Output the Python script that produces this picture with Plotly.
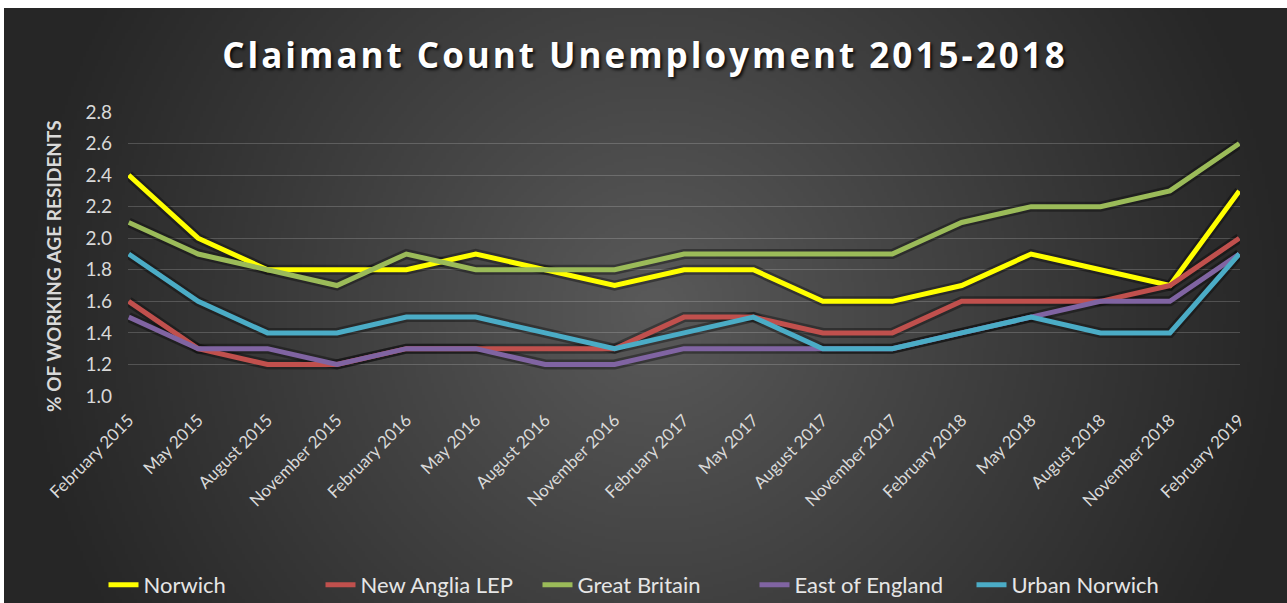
import base64
import struct
import zlib

import numpy as np
import plotly.graph_objects as go

# ---------------- data ----------------
months = [
    "February 2015", "May 2015", "August 2015", "November 2015",
    "February 2016", "May 2016", "August 2016", "November 2016",
    "February 2017", "May 2017", "August 2017", "November 2017",
    "February 2018", "May 2018", "August 2018", "November 2018",
    "February 2019",
]
norwich = [2.4, 2.0, 1.8, 1.8, 1.8, 1.9, 1.8, 1.7, 1.8, 1.8, 1.6, 1.6, 1.7, 1.9, 1.8, 1.7, 2.3]
new_anglia = [1.6, 1.3, 1.2, 1.2, 1.3, 1.3, 1.3, 1.3, 1.5, 1.5, 1.4, 1.4, 1.6, 1.6, 1.6, 1.7, 2.0]
great_britain = [2.1, 1.9, 1.8, 1.7, 1.9, 1.8, 1.8, 1.8, 1.9, 1.9, 1.9, 1.9, 2.1, 2.2, 2.2, 2.3, 2.6]
east_england = [1.5, 1.3, 1.3, 1.2, 1.3, 1.3, 1.2, 1.2, 1.3, 1.3, 1.3, 1.3, 1.4, 1.5, 1.6, 1.6, 1.9]
urban_norwich = [1.9, 1.6, 1.4, 1.4, 1.5, 1.5, 1.4, 1.3, 1.4, 1.5, 1.3, 1.3, 1.4, 1.5, 1.4, 1.4, 1.9]
y_ticks = [1.0, 1.2, 1.4, 1.6, 1.8, 2.0, 2.2, 2.4, 2.6, 2.8]

series = [
    ("Norwich", norwich, "#FFFF00"),
    ("New Anglia LEP", new_anglia, "#C0504D"),
    ("Great Britain", great_britain, "#9BBB59"),
    ("East of England", east_england, "#8064A2"),
    ("Urban Norwich", urban_norwich, "#4BACC6"),
]

# ---------------- layout geometry ----------------
W, H = 1287, 603
ML, MR, MT, MB = 128, 47, 112, 207
PW, PH = W - ML - MR, H - MT - MB


def px_x(X):
    return (X - ML) / PW


def px_y(Y):
    return (H - MB - Y) / PH


# ---------------- radial gradient background (PNG data URI) ----------------
def gradient_uri(w, h, scale):
    ys, xs = np.mgrid[0:h, 0:w].astype(float)
    xs = xs * scale
    ys = ys * scale
    cx, cy = 650.0, 300.0
    r = np.sqrt((xs - cx) ** 2 + (ys - cy) ** 2) / 640.0
    r = np.clip(r, 0, 1)
    v = 38 + (90 - 38) * (1 - r) ** 1.05
    arr = np.clip(v, 0, 255).astype(np.uint8)
    rgb = np.stack([arr, arr, arr], axis=2)
    raw = b"".join(b"\x00" + rgb[i].tobytes() for i in range(h))

    def chunk(tag, data):
        c = struct.pack(">I", len(data)) + tag + data
        return c + struct.pack(">I", zlib.crc32(tag + data) & 0xFFFFFFFF)

    png = b"\x89PNG\r\n\x1a\n"
    png += chunk(b"IHDR", struct.pack(">IIBBBBB", w, h, 8, 2, 0, 0, 0))
    png += chunk(b"IDAT", zlib.compress(raw, 9))
    png += chunk(b"IEND", b"")
    return "data:image/png;base64," + base64.b64encode(png).decode()


bg_w, bg_h = W - 4, H - 8
scale = 3
bg_uri = gradient_uri(bg_w // scale + 1, bg_h // scale + 1, scale)

# ---------------- figure ----------------
fig = go.Figure()

for name, vals, color in series:
    fig.add_trace(go.Scatter(
        x=months, y=vals, mode="lines", showlegend=False, hoverinfo="skip",
        line=dict(color="rgba(0,0,0,0.35)", width=10),
    ))

for name, vals, color in series:
    fig.add_trace(go.Scatter(
        x=months, y=vals, mode="lines", name=name,
        line=dict(color=color, width=5),
    ))

fig.update_layout(
    width=W, height=H,
    margin=dict(l=ML, r=MR, t=MT, b=MB, autoexpand=False),
    paper_bgcolor="white",
    plot_bgcolor="rgba(0,0,0,0)",
    images=[dict(
        source=bg_uri, xref="paper", yref="paper",
        x=px_x(4), y=px_y(8), sizex=(W - 4) / PW, sizey=(H - 8) / PH,
        xanchor="left", yanchor="top", sizing="stretch", layer="below",
    )],
    title=dict(
        text='<span style="letter-spacing:3px"><b>Claimant Count Unemployment 2015-2018</b></span>',
        x=645 / W, xref="container", xanchor="center",
        y=1 - 56 / H, yref="container", yanchor="middle",
        font=dict(family="Open Sans", size=35, color="white",
                  shadow="2px 2px 3px rgba(0,0,0,0.8)"),
    ),
    font=dict(family="Lato", color="#D9D9D9"),
    xaxis=dict(
        type="category", categoryorder="array", categoryarray=months,
        range=[-0.01, len(months) - 1 + 0.01],
        showgrid=False, zeroline=False, showline=False,
        tickangle=-45, tickfont=dict(size=17, color="#D9D9D9"),
        ticks="", ticklabelstandoff=10,
    ),
    yaxis=dict(
        range=[1.0, 2.8], tickvals=y_ticks,
        ticktext=[f"{v:.1f}" for v in y_ticks],
        showgrid=True, gridcolor="rgba(255,255,255,0.18)", gridwidth=1,
        zeroline=False, showline=False,
        tickfont=dict(size=19, color="#D9D9D9"),
        ticks="", ticklabelstandoff=15,
    ),
    annotations=[dict(
        text="<b>% OF WORKING AGE RESIDENTS</b>", textangle=-90,
        xref="paper", yref="paper", x=px_x(53), y=px_y(266),
        xanchor="center", yanchor="middle", showarrow=False,
        font=dict(family="Lato", size=19, color="#D9D9D9"),
    )],
    legend=dict(
        orientation="h", x=(100 + 1192) / 2 / W, xref="container",
        xanchor="center", y=px_y(585), yanchor="middle",
        bgcolor="rgba(0,0,0,0)", font=dict(size=22, color="#E6E6E6"),
        itemwidth=30, entrywidth=172, entrywidthmode="pixels",
    ),
)

fig.write_html("out.html")
